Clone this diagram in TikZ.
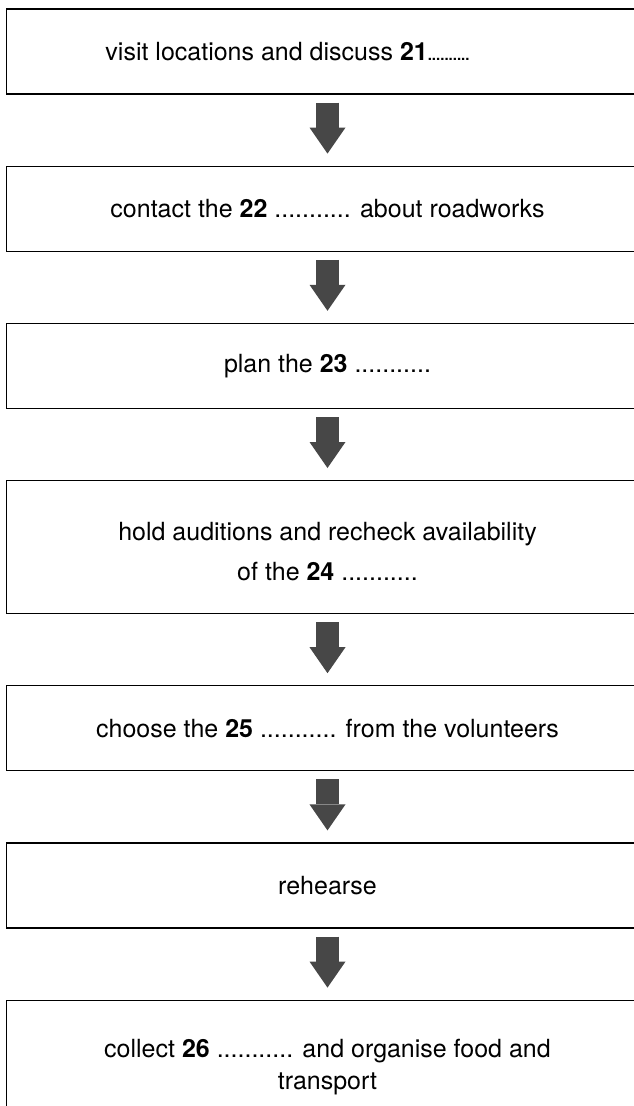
\documentclass[tikz,border=0pt]{standalone}
\usepackage{fontspec}
\setmainfont{TeX Gyre Heros}
\usepackage{tikz}
\usetikzlibrary{positioning,arrows.meta}

\tikzset{
  stepbox/.style={draw=black, line width=1.2pt, minimum width=642pt, minimum height=85pt,
    inner sep=0pt, align=center, font=\fontsize{25}{40}\selectfont},
  tallbox/.style={stepbox, minimum height=133pt},
  flowarrow/.style={draw=black!72, line width=23pt,
    -{Triangle[length=26pt, width=36pt, line width=0pt]},
    shorten <=8pt, shorten >=12pt}
}

\begin{document}
\begin{tikzpicture}[x=1pt, y=-1pt, node distance=71pt]
  \clip (0,0) rectangle (634,1106);
  % cac buoc
  \node[stepbox] (b1) at (327.5,51.5) {visit locations and discuss \textbf{21}{\fontsize{15}{15}\selectfont\bfseries ..........}\hspace*{80pt}};
  \node[stepbox, below=of b1] (b2) {contact the \textbf{22} ........... about roadworks};
  \node[stepbox, below=of b2] (b3) {plan the \textbf{23} ...........};
  \node[tallbox, below=of b3] (b4) {\\[-12pt]hold auditions and recheck availability\\of the \textbf{24} ...........};
  \node[stepbox, below=of b4] (b5) {choose the \textbf{25} ........... from the volunteers};
  \node[stepbox, below=of b5] (b6) {rehearse};
  \node[tallbox, below=of b6, font=\fontsize{25}{32}\selectfont] (b7) {collect \textbf{26} ........... and organise food and\\transport};
  % mui ten giua cac hop
  \foreach \a/\b in {b1/b2, b2/b3, b3/b4, b4/b5, b5/b6, b6/b7}
    \draw[flowarrow] (\a.south) -- (\b.north);
\end{tikzpicture}
\end{document}
